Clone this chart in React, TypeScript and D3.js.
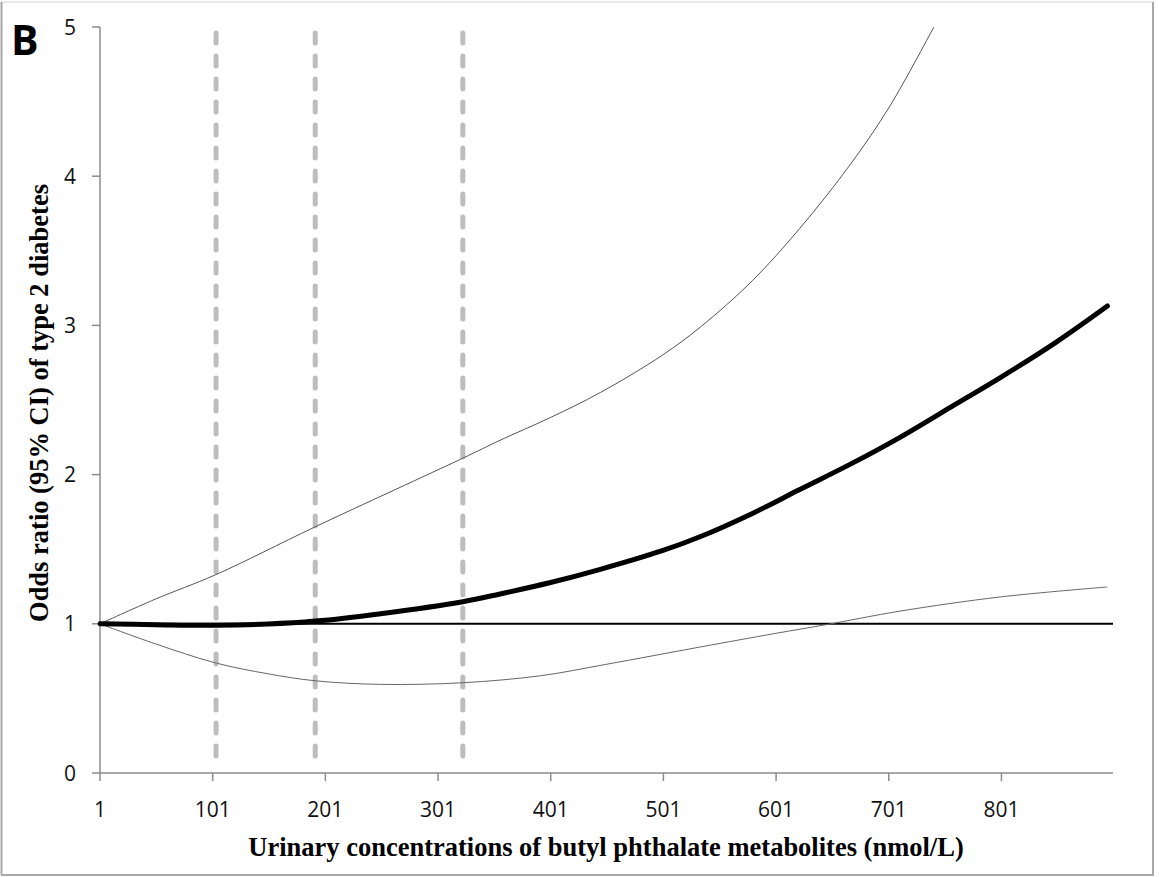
import React from "react";
import * as d3 from "d3";

// ---- data ----
const xTickValues = [1, 101, 201, 301, 401, 501, 601, 701, 801];
const yTickValues = [0, 1, 2, 3, 4, 5];
const cutoffs = [104, 192, 323];

const mainX = [1, 50, 104, 150, 192, 250, 323, 356, 400, 445, 500, 534, 580, 622, 667, 711, 760, 800, 850, 895];
const mainOR = [1.0, 0.994, 0.99, 0.998, 1.018, 1.068, 1.148, 1.2, 1.275, 1.365, 1.49, 1.585, 1.74, 1.9, 2.07, 2.25, 2.47, 2.65, 2.89, 3.13];

const upperX = [1, 50, 104, 192, 323, 356, 400, 445, 500, 534, 580, 622, 667, 702, 741];
const upperOR = [1.0, 1.165, 1.33, 1.65, 2.11, 2.23, 2.38, 2.55, 2.8, 2.99, 3.3, 3.65, 4.08, 4.47, 5.0];

const lowerX = [1, 50, 104, 150, 192, 250, 323, 392, 450, 534, 600, 646, 711, 800, 895];
const lowerOR = [1.0, 0.866, 0.737, 0.665, 0.618, 0.594, 0.605, 0.652, 0.728, 0.845, 0.935, 0.995, 1.085, 1.18, 1.247];

const refX = [1, 900];
const refOR = [1, 1];

const xTitle = "Urinary concentrations of butyl phthalate metabolites (nmol/L)";
const yTitle = "Odds ratio (95% CI) of type 2 diabetes";
const panelLabel = "B";

export default function App() {
  const W = 1159;
  const H = 877;
  const left = 100;
  const right = 1113;
  const top = 27;
  const bottom = 773;

  const x = d3.scaleLinear().domain([1, 900]).range([left, right]);
  const y = d3.scaleLinear().domain([0, 5]).range([bottom, top]);

  const mk = (xs: number[], ys: number[]) =>
    d3
      .line<number>()
      .x((_, i) => x(xs[i]))
      .y((d) => y(d))
      .curve(d3.curveCatmullRom.alpha(0.5))(ys) || "";

  const axisColor = "#8c8c8c";
  const tickFont = "'Open Sans', 'Noto Sans', sans-serif";
  const serif = "'Liberation Serif', 'DejaVu Serif', serif";

  return (
    <svg
      width={W}
      height={H}
      viewBox={`0 0 ${W} ${H}`}
      style={{ position: "absolute", left: 0, top: 0, background: "#fff" }}
    >
      <rect x={0} y={0} width={W} height={H} fill="#fff" />
      {/* frame */}
      <line x1={1} y1={2} x2={1153} y2={2} stroke="#e2e2e2" strokeWidth={1.5} />
      <line x1={1.5} y1={2} x2={1.5} y2={875} stroke="#a8a8a8" strokeWidth={2} />
      <line x1={1} y1={875} x2={1154} y2={875} stroke="#a8a8a8" strokeWidth={2} />
      <line x1={1153} y1={2} x2={1153} y2={875} stroke="#a8a8a8" strokeWidth={2} />

      {/* axes */}
      <line x1={left} y1={top} x2={left} y2={bottom} stroke={axisColor} strokeWidth={1.5} />
      <line x1={left} y1={bottom} x2={right} y2={bottom} stroke={axisColor} strokeWidth={1.5} />
      {yTickValues.map((v) => (
        <g key={"yt" + v}>
          <line x1={left - 8} x2={left} y1={y(v)} y2={y(v)} stroke={axisColor} strokeWidth={1.5} />
          <text
            x={76}
            y={y(v)}
            dy="0.36em"
            textAnchor="end"
            fontFamily={tickFont}
            fontSize={21}
            fill="#111"
          >
            {v}
          </text>
        </g>
      ))}
      {xTickValues.map((v) => (
        <g key={"xt" + v}>
          <line x1={x(v)} x2={x(v)} y1={bottom} y2={bottom + 8} stroke={axisColor} strokeWidth={1.5} />
          <text
            x={x(v)}
            y={817}
            textAnchor="middle"
            fontFamily={tickFont}
            fontSize={21}
            fill="#111"
          >
            {v}
          </text>
        </g>
      ))}

      {/* cutoff dashed lines */}
      {cutoffs.map((c) => (
        <line
          key={"c" + c}
          x1={x(c)}
          x2={x(c)}
          y1={33}
          y2={762}
          stroke="#bdbdbd"
          strokeWidth={5}
          strokeDasharray="10 13"
          strokeLinecap="round"
        />
      ))}

      <clipPath id="plotclip">
        <rect x={left} y={top - 1} width={right - left + 10} height={bottom - top + 1} />
      </clipPath>
      <g clipPath="url(#plotclip)">
        <path d={mk(refX, refOR)} fill="none" stroke="#000" strokeWidth={2} />
        <path d={mk(upperX, upperOR)} fill="none" stroke="#555" strokeWidth={1} />
        <path d={mk(lowerX, lowerOR)} fill="none" stroke="#666" strokeWidth={1} />
      </g>
      <path d={mk(mainX, mainOR)} fill="none" stroke="#000" strokeWidth={5} strokeLinecap="round" />

      {/* titles */}
      <text
        x={606}
        y={856}
        textAnchor="middle"
        fontFamily={serif}
        fontWeight="bold"
        fontSize={26.5}
        fill="#000"
      >
        {xTitle}
      </text>
      <text
        transform={`translate(48, 403) rotate(-90)`}
        textAnchor="middle"
        fontFamily={serif}
        fontWeight="bold"
        fontSize={26.5}
        fill="#000"
      >
        {yTitle}
      </text>
      <text
        x={11}
        y={55}
        fontFamily="'Open Sans', 'Noto Sans', sans-serif"
        fontWeight="bold"
        fontSize={41}
        fill="#000"
      >
        {panelLabel}
      </text>
    </svg>
  );
}
